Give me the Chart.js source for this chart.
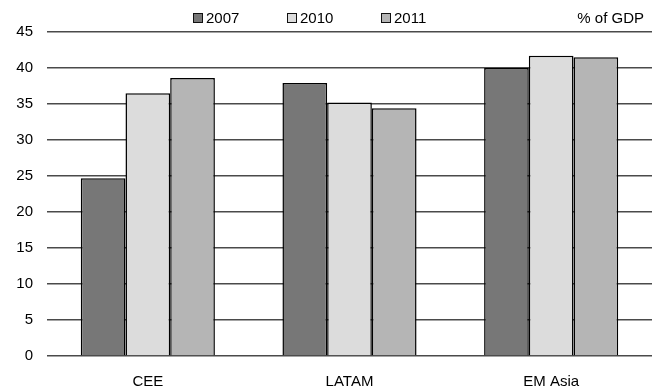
<!DOCTYPE html>
<html>
<head>
<meta charset="utf-8">
<script src="https://cdn.jsdelivr.net/npm/chart.js@4/dist/chart.umd.min.js"></script>
<style>
  html, body { margin: 0; padding: 0; background: #fff; }
  #wrap { width: 666px; height: 392px; }
</style>
</head>
<body>
<div id="wrap"><canvas id="c" width="666" height="392"></canvas></div>
<script>
// Regions and yearly values (% of GDP)
const categories = ["CEE", "LATAM", "EM Asia"];
const years = ["2007", "2010", "2011"];
const values2007 = [24.7, 37.9, 40.0];
const values2010 = [36.5, 35.2, 41.7];
const values2011 = [38.6, 34.4, 41.5];
const yTicks = [0, 5, 10, 15, 20, 25, 30, 35, 40, 45];
const unitLabel = "% of GDP";

const fills = ["#777777", "#dcdcdc", "#b5b5b5"];
const FONT = "'Liberation Sans', Arial, sans-serif";

// Legend row along the top plus the unit note on the right
const topLegend = {
  id: "topLegend",
  afterDraw(chart) {
    const ctx = chart.ctx;
    const starts = [193, 287, 381];
    ctx.save();
    ctx.font = "15px " + FONT;
    ctx.textBaseline = "middle";
    chart.data.datasets.forEach((ds, i) => {
      const x = starts[i];
      ctx.fillStyle = ds.backgroundColor;
      ctx.fillRect(x + 0.5, 13.5, 9, 9);
      ctx.strokeStyle = "#111";
      ctx.lineWidth = 1;
      ctx.strokeRect(x + 0.5, 13.5, 9, 9);
      ctx.fillStyle = "#000";
      ctx.textAlign = "left";
      ctx.fillText(ds.label, x + 13, 18.5);
    });
    ctx.textAlign = "right";
    ctx.fillText(unitLabel, chart.chartArea.right - 8, 18.5);
    ctx.restore();
  }
};

new Chart(document.getElementById("c"), {
  type: "bar",
  data: {
    labels: categories,
    datasets: [
      { label: years[0], data: values2007, backgroundColor: fills[0] },
      { label: years[1], data: values2010, backgroundColor: fills[1] },
      { label: years[2], data: values2011, backgroundColor: fills[2] }
    ].map(ds => Object.assign(ds, {
      borderColor: "#000",
      borderWidth: 1.5,
      categoryPercentage: 0.665,
      barPercentage: 1.0
    }))
  },
  options: {
    responsive: false,
    animation: false,
    layout: { padding: { top: 32, right: 14, left: 0, bottom: 0 } },
    plugins: {
      legend: { display: false },
      tooltip: { enabled: false }
    },
    scales: {
      x: {
        grid: { display: false },
        border: { display: false },
        ticks: { color: "#000", font: { family: FONT, size: 15 }, padding: 9 },
        afterFit(scale) { scale.height = 36; }
      },
      y: {
        min: 0,
        max: 45,
        afterBuildTicks(scale) { scale.ticks = yTicks.map(v => ({ value: v })); },
        grid: { color: "#4a4a4a", lineWidth: 1.4, drawTicks: false },
        border: { display: false },
        ticks: { color: "#000", font: { family: FONT, size: 15 }, padding: 14 },
        afterFit(scale) { scale.width = 47; }
      }
    }
  },
  plugins: [topLegend]
});
</script>
</body>
</html>
